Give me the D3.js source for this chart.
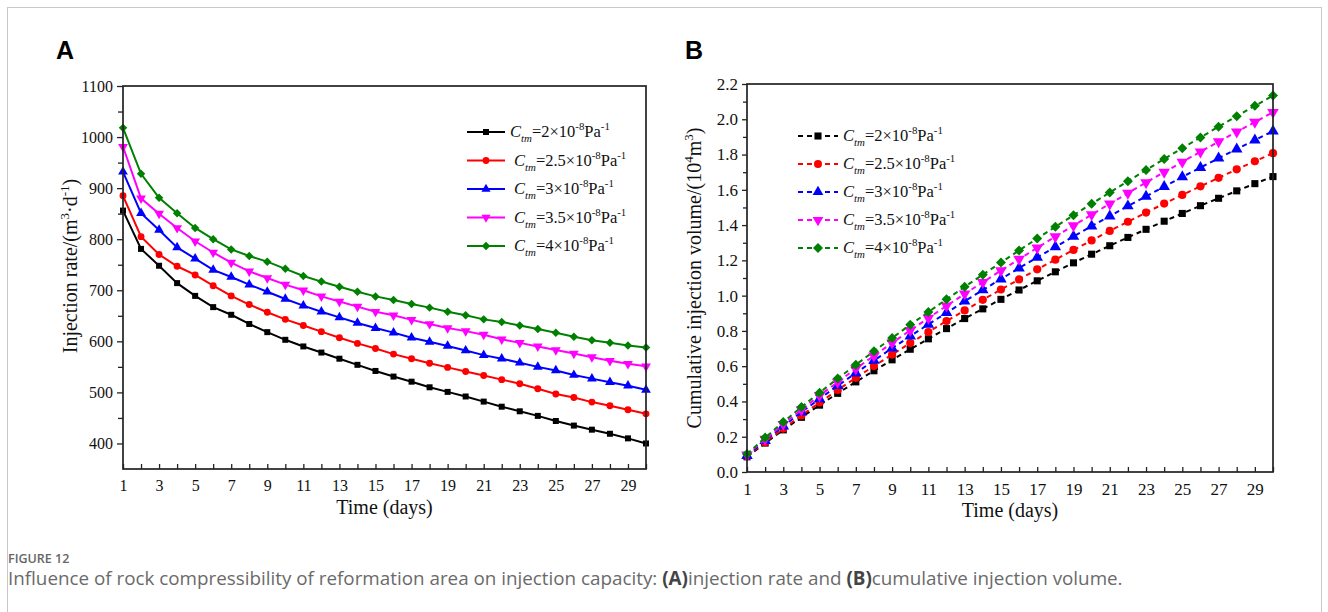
<!DOCTYPE html>
<html><head><meta charset="utf-8">
<script src="https://cdn.jsdelivr.net/npm/d3@7"></script>
<style>html,body{margin:0;padding:0;background:#fff;} svg{display:block;}</style>
</head><body>
<svg id="chart" width="1328" height="612"></svg>
<script>
// ---------- data ----------
const days = [1,2,3,4,5,6,7,8,9,10,11,12,13,14,15,16,17,18,19,20,21,22,23,24,25,26,27,28,29,30];
const cmValues = ["2","2.5","3","3.5","4"];
const seriesColors = ["#000000","#ff0000","#0000ff","#ff00ff","#008000"];
// injection rate, m3/d
const rateCm2  = [856,781,748,714,689,667,652,634,618,603,590,578,566,554,542,531,521,510,501,492,482,472,463,454,444,435,427,419,410,400];
const rateCm25 = [885,805,770,747,730,709,689,672,657,643,631,619,607,596,586,575,566,557,549,541,533,525,517,507,497,490,481,474,466,458];
const rateCm3  = [932,851,818,784,762,740,726,711,697,683,670,658,647,636,626,617,607,599,591,582,573,566,558,550,543,534,527,520,513,505];
const rateCm35 = [981,880,850,822,796,774,754,737,724,711,700,688,678,668,658,651,642,634,626,620,613,604,597,590,583,576,569,562,556,551];
const rateCm4  = [1018,928,881,851,822,800,780,767,756,742,728,717,707,697,688,681,673,666,658,651,643,638,631,624,617,609,602,597,592,588];
// cumulative injection volume, 10^4 m3
const volCm2  = [0.086,0.164,0.239,0.310,0.379,0.446,0.511,0.574,0.636,0.696,0.755,0.813,0.870,0.925,0.979,1.032,1.084,1.135,1.186,1.235,1.283,1.330,1.376,1.422,1.466,1.510,1.552,1.594,1.635,1.675];
const volCm25 = [0.089,0.169,0.246,0.321,0.394,0.465,0.534,0.601,0.666,0.731,0.794,0.856,0.916,0.976,1.035,1.092,1.149,1.204,1.259,1.313,1.367,1.419,1.471,1.522,1.571,1.620,1.668,1.716,1.762,1.808];
const volCm3  = [0.093,0.178,0.260,0.339,0.415,0.489,0.561,0.632,0.702,0.770,0.837,0.903,0.968,1.032,1.094,1.156,1.217,1.276,1.336,1.394,1.451,1.508,1.563,1.618,1.673,1.726,1.779,1.831,1.882,1.933];
const volCm35 = [0.098,0.186,0.271,0.353,0.433,0.510,0.586,0.659,0.732,0.803,0.873,0.942,1.010,1.076,1.142,1.207,1.271,1.335,1.397,1.459,1.521,1.581,1.641,1.700,1.758,1.816,1.873,1.929,1.984,2.040];
const volCm4  = [0.102,0.195,0.283,0.368,0.450,0.530,0.608,0.685,0.760,0.835,0.907,0.979,1.050,1.119,1.188,1.256,1.324,1.390,1.456,1.521,1.585,1.649,1.712,1.775,1.836,1.897,1.958,2.017,2.076,2.135];
const xTickLabels = [1,3,5,7,9,11,13,15,17,19,21,23,25,27,29];
const yTicksA = [400,500,600,700,800,900,1000,1100];
const yMinorA = [450,550,650,750,850,950,1050];
const yTicksB = [0.0,0.2,0.4,0.6,0.8,1.0,1.2,1.4,1.6,1.8,2.0,2.2];
const yMinorB = [0.1,0.3,0.5,0.7,0.9,1.1,1.3,1.5,1.7,1.9,2.1];

const rateSeries = [rateCm2, rateCm25, rateCm3, rateCm35, rateCm4];
const volSeries  = [volCm2, volCm25, volCm3, volCm35, volCm4];

// ---------- drawing ----------
const serif = "'Liberation Serif','Times New Roman',Times,serif";
const svg = d3.select("#chart");

// outer border
svg.append("rect").attr("x",7.5).attr("y",7.5).attr("width",1314).attr("height",640)
  .attr("fill","none").attr("stroke","#c8c8c8").attr("stroke-width",1);

const symbolTypes = [
  {t:d3.symbolSquare, r:0},
  {t:d3.symbolCircle, r:0},
  {t:d3.symbolTriangle, r:0},
  {t:d3.symbolTriangle, r:180},
  {t:d3.symbolSquare, r:45}
];

function cmLabel(g, x, y, val, size) {
  const t = g.append("text").attr("x",x).attr("y",y)
    .attr("font-family",serif).attr("font-size",size).attr("fill","#111");
  const s = size*0.66;
  t.append("tspan").attr("font-style","italic").text("C");
  t.append("tspan").attr("font-style","italic").attr("font-size",s).attr("dy",size*0.32).text("tm");
  t.append("tspan").attr("dy",-size*0.32).text("=" + val + "×10");
  t.append("tspan").attr("font-size",s).attr("dy",-size*0.42).text("-8");
  t.append("tspan").attr("dy",size*0.42).text("Pa");
  t.append("tspan").attr("font-size",s).attr("dy",-size*0.42).text("-1");
}

function drawPanel(opt) {
  const {x, y, series, dashed, symSize, letter, letterX, ylabel, legX, legY0, legDy, legTextX, fontSize, yTicks, yMinor, yFmt, ytl, ytlMinor} = opt;
  const g = svg.append("g");
  const [x0,x1] = x.range();
  const [y1,y0] = y.range();

  svg.append("text").attr("x",letterX).attr("y",59).attr("font-family","'Liberation Sans',Arial,sans-serif")
    .attr("font-weight","bold").attr("font-size",25).attr("fill","#000").text(letter);

  const ya = g.append("g").attr("transform",`translate(${x0},0)`)
    .call(d3.axisLeft(y).tickValues(yTicks).tickFormat(yFmt).tickSize(ytl).tickPadding(4));
  ya.select(".domain").remove();
  ya.selectAll("text").attr("font-family",serif).attr("font-size",fontSize).attr("fill","#111");
  ya.selectAll("line").attr("stroke","#222").attr("stroke-width",1.3);
  const ym = g.append("g").attr("transform",`translate(${x0},0)`)
    .call(d3.axisLeft(y).tickValues(yMinor).tickFormat("").tickSize(ytlMinor));
  ym.select(".domain").remove();
  ym.selectAll("line").attr("stroke","#222").attr("stroke-width",1.3);

  const xa = g.append("g").attr("transform",`translate(0,${y1})`)
    .call(d3.axisBottom(x).tickValues(days).tickFormat(d => xTickLabels.includes(d) ? d : "")
      .tickSizeInner(-5).tickSizeOuter(0).tickPadding(11));
  xa.select(".domain").remove();
  xa.selectAll("text").attr("font-family",serif).attr("font-size",fontSize).attr("fill","#111");
  xa.selectAll("line").attr("stroke","#222").attr("stroke-width",1.3);

  const line = d3.line().x((d,i)=>x(days[i])).y(d=>y(d));
  series.forEach((vals, si) => {
    g.append("path").datum(vals).attr("d", line).attr("fill","none")
      .attr("stroke", seriesColors[si]).attr("stroke-width", 2)
      .attr("stroke-dasharray", dashed ? "5,4" : null);
    const st = symbolTypes[si];
    const sym = d3.symbol().type(st.t).size(si===1 ? symSize*1.05 : (si===2||si===3 ? symSize*1.15 : symSize));
    g.selectAll(null).data(vals).enter().append("path")
      .attr("d", sym)
      .attr("transform",(d,i)=>`translate(${x(days[i])},${y(d)}) rotate(${st.r})`)
      .attr("fill", seriesColors[si]);
  });

  g.append("rect").attr("x",x0).attr("y",y0).attr("width",x1-x0).attr("height",y1-y0)
    .attr("fill","none").attr("stroke","#222").attr("stroke-width",1.7);

  g.append("text").attr("x",(x0+x1)/2).attr("y",y1+45).attr("text-anchor","middle")
    .attr("font-family",serif).attr("font-size",20).attr("fill","#111").text("Time (days)");
  ylabel(g);

  series.forEach((vals, si) => {
    const ly = legY0 + si*legDy;
    g.append("line").attr("x1",legX[0]).attr("x2",legX[1]).attr("y1",ly).attr("y2",ly)
      .attr("stroke",seriesColors[si]).attr("stroke-width",2)
      .attr("stroke-dasharray", dashed ? "5,4" : null);
    const st = symbolTypes[si];
    g.append("path").attr("d", d3.symbol().type(st.t).size(symSize)())
      .attr("transform",`translate(${(legX[0]+legX[1])/2},${ly}) rotate(${st.r})`)
      .attr("fill",seriesColors[si]);
    cmLabel(g, legTextX[si], ly+5, cmValues[si], 16.5);
  });
}

// Panel A
const xA = d3.scaleLinear().domain([1,30]).range([123,646]);
const yA = d3.scaleLinear().domain([350,1100]).range([469,86]);
drawPanel({
  x:xA, y:yA, series:rateSeries, dashed:false, symSize:36, letter:"A", letterX:56,
  fontSize:16, yTicks:yTicksA, yMinor:yMinorA, yFmt:d3.format("d"), ytl:6, ytlMinor:5,
  legX:[467,505], legY0:132, legDy:28.5, legTextX:[510,514,514,514,514],
  ylabel: g => {
    const t = g.append("text").attr("transform","translate(77,266) rotate(-90)").attr("text-anchor","middle")
      .attr("font-family",serif).attr("font-size",20).attr("fill","#111");
    t.append("tspan").text("Injection rate/(m");
    t.append("tspan").attr("font-size",13).attr("dy",-8).text("3");
    t.append("tspan").attr("dy",8).text("·d");
    t.append("tspan").attr("font-size",13).attr("dy",-8).text("-1");
    t.append("tspan").attr("dy",8).text(")");
  }
});

// Panel B
const xB = d3.scaleLinear().domain([1,30]).range([747,1273]);
const yB = d3.scaleLinear().domain([0,2.2]).range([472,84]);
drawPanel({
  x:xB, y:yB, series:volSeries, dashed:true, symSize:50, letter:"B", letterX:685,
  fontSize:17, yTicks:yTicksB, yMinor:yMinorB, yFmt:d3.format(".1f"), ytl:5, ytlMinor:4,
  legX:[798,838], legY0:136, legDy:28, legTextX:[843,843,843,843,843],
  ylabel: g => {
    const t = g.append("text").attr("transform","translate(701,278) rotate(-90)").attr("text-anchor","middle")
      .attr("font-family",serif).attr("font-size",20).attr("fill","#111");
    t.append("tspan").text("Cumulative injection volume/(10");
    t.append("tspan").attr("font-size",13).attr("dy",-8).text("4");
    t.append("tspan").attr("dy",8).text("m");
    t.append("tspan").attr("font-size",13).attr("dy",-8).text("3");
    t.append("tspan").attr("dy",8).text(")");
  }
});

// caption
const sans = "'Open Sans','Noto Sans',sans-serif";
svg.append("text").attr("x",8).attr("y",563).attr("font-family",sans).attr("font-size",12.5)
  .attr("fill","#666").attr("font-weight",600).text("FIGURE 12");
const cap = svg.append("text").attr("x",8).attr("y",585).attr("font-family",sans).attr("font-size",15)
  .attr("fill","#6a6a6a");
cap.append("tspan").text("Influence of rock compressibility of reformation area on injection capacity: ");
cap.append("tspan").attr("font-weight","bold").attr("fill","#444").text("(A)");
cap.append("tspan").text("injection rate and ");
cap.append("tspan").attr("font-weight","bold").attr("fill","#444").text("(B)");
cap.append("tspan").text("cumulative injection volume.");
const cl = cap.node().getComputedTextLength();
cap.attr("font-size", 15*1115/cl);
</script>
</body></html>
